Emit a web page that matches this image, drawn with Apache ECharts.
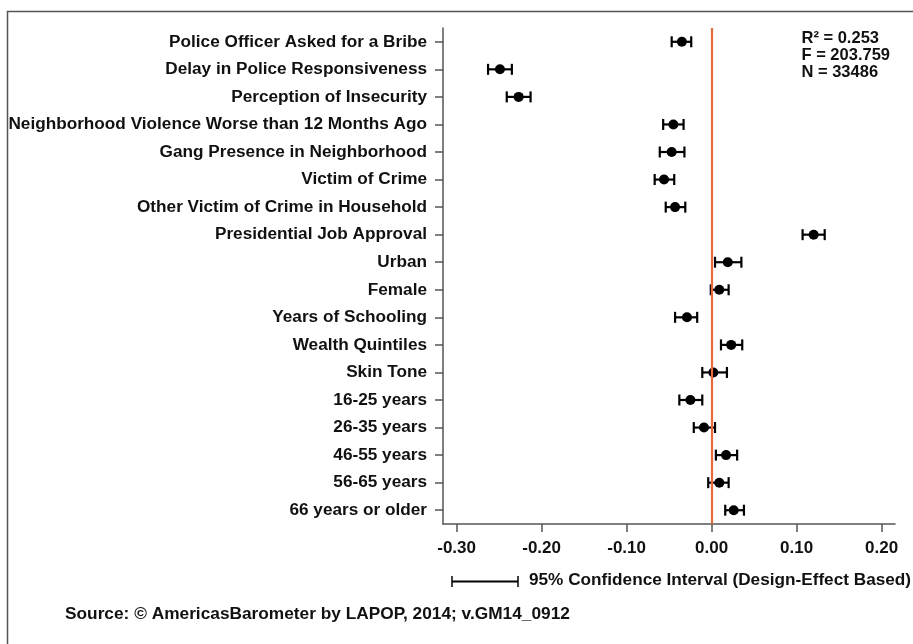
<!DOCTYPE html>
<html><head><meta charset="utf-8">
<script src="https://cdn.jsdelivr.net/npm/echarts@6/dist/echarts.min.js"></script>
<style>html,body{margin:0;padding:0;background:#fff}#c{width:913px;height:644px}</style>
</head><body><div id="c"></div>
<script>
const categories = [
  "Police Officer Asked for a Bribe",
  "Delay in Police Responsiveness",
  "Perception of Insecurity",
  "Neighborhood Violence Worse than 12 Months Ago",
  "Gang Presence in Neighborhood",
  "Victim of Crime",
  "Other Victim of Crime in Household",
  "Presidential Job Approval",
  "Urban",
  "Female",
  "Years of Schooling",
  "Wealth Quintiles",
  "Skin Tone",
  "16-25 years",
  "26-35 years",
  "46-55 years",
  "56-65 years",
  "66 years or older"
];
const estimates = [-0.035, -0.249, -0.227, -0.045, -0.047, -0.056, -0.043, 0.120, 0.019, 0.009, -0.029, 0.023, 0.002, -0.025, -0.009, 0.017, 0.009, 0.026];
const ciLow  = [-0.047, -0.263, -0.241, -0.057, -0.061, -0.067, -0.054, 0.107, 0.004, -0.001, -0.043, 0.011, -0.011, -0.038, -0.021, 0.005, -0.004, 0.016];
const ciHigh = [-0.024, -0.235, -0.213, -0.033, -0.032, -0.044, -0.031, 0.133, 0.035, 0.020, -0.017, 0.036, 0.018, -0.011, 0.004, 0.030, 0.020, 0.038];
const xTicks = [-0.30, -0.20, -0.10, 0.00, 0.10, 0.20];
const stats = ["R\u00B2 = 0.253", "F = 203.759", "N = 33486"];
const ciLegend = "95% Confidence Interval (Design-Effect Based)";
const source = "Source: \u00A9 AmericasBarometer by LAPOP, 2014; v.GM14_0912";

const FONT = "'Liberation Sans', Arial, sans-serif";
const chart = echarts.init(document.getElementById('c'), null, {renderer: 'canvas'});

const errData = categories.map((c, i) => [i, ciLow[i], ciHigh[i]]);
const ptData = categories.map((c, i) => [estimates[i], i]);

chart.setOption({
  animation: false,
  backgroundColor: '#fff',
  grid: {left: 443, right: 18, top: 28, bottom: 120, containLabel: false},
  xAxis: {
    type: 'value', min: -0.316, max: 0.2157,
    axisLine: {show: true, onZero: false, lineStyle: {color: '#555', width: 1.5}},
    axisTick: {show: true, length: 8, lineStyle: {color: '#555', width: 1.5},
      customValues: xTicks},
    axisLabel: {customValues: xTicks, margin: 16, color: '#111', fontFamily: FONT, fontWeight: 'bold', fontSize: 17,
      formatter: v => v.toFixed(2)},
    splitLine: {show: false}
  },
  yAxis: {
    type: 'category', data: categories, inverse: true,
    axisLine: {show: true, onZero: false, lineStyle: {color: '#555', width: 1.5}},
    axisTick: {show: true, alignWithLabel: true, length: 8, lineStyle: {color: '#555', width: 1.5}},
    axisLabel: {margin: 16, color: '#111', fontFamily: FONT, fontWeight: 'bold', fontSize: 17.2, interval: 0},
    splitLine: {show: false}
  },
  series: [
    {
      type: 'custom',
      data: errData,
      encode: {y: 0, x: [1, 2]},
      renderItem: function (params, api) {
        const cat = api.value(0);
        const lo = api.coord([api.value(1), cat]);
        const hi = api.coord([api.value(2), cat]);
        const h = 5.5;
        const st = {stroke: '#000', lineWidth: 2.2};
        return {type: 'group', children: [
          {type: 'line', shape: {x1: lo[0], y1: lo[1], x2: hi[0], y2: hi[1]}, style: st},
          {type: 'line', shape: {x1: lo[0], y1: lo[1] - h, x2: lo[0], y2: lo[1] + h}, style: st},
          {type: 'line', shape: {x1: hi[0], y1: hi[1] - h, x2: hi[0], y2: hi[1] + h}, style: st}
        ]};
      },
      z: 3
    },
    {
      type: 'scatter',
      data: ptData,
      symbol: 'circle', symbolSize: 10,
      itemStyle: {color: '#000', opacity: 1},
      z: 4,
      markLine: {
        silent: true, symbol: 'none',
        label: {show: false},
        lineStyle: {color: '#E8693F', width: 2.2, type: 'solid', opacity: 1},
        data: [{xAxis: 0}]
      }
    }
  ],
  graphic: [
    {type: 'polyline', shape: {points: [[7.5, 644], [7.5, 11.5], [913, 11.5]]}, style: {stroke: '#555', lineWidth: 1.5, fill: null}},
    {type: 'text', right: 23, top: 30, style: {text: stats.join('\n'), align: 'right', fontFamily: FONT, fontWeight: 'bold', fontSize: 16.5, lineHeight: 17, fill: '#111'}},
    {type: 'polyline', shape: {points: [[452, 576], [452, 587]]}, style: {stroke: '#000', lineWidth: 1.5}},
    {type: 'polyline', shape: {points: [[518, 576], [518, 587]]}, style: {stroke: '#000', lineWidth: 1.5}},
    {type: 'line', shape: {x1: 452, y1: 581.5, x2: 518, y2: 581.5}, style: {stroke: '#000', lineWidth: 2}},
    {type: 'text', left: 529, top: 572, style: {text: ciLegend, fontFamily: FONT, fontWeight: 'bold', fontSize: 17.2, fill: '#111'}},
    {type: 'text', left: 65, top: 606, style: {text: source, fontFamily: FONT, fontWeight: 'bold', fontSize: 17.3, fill: '#111'}}
  ]
});
</script>
</body></html>
